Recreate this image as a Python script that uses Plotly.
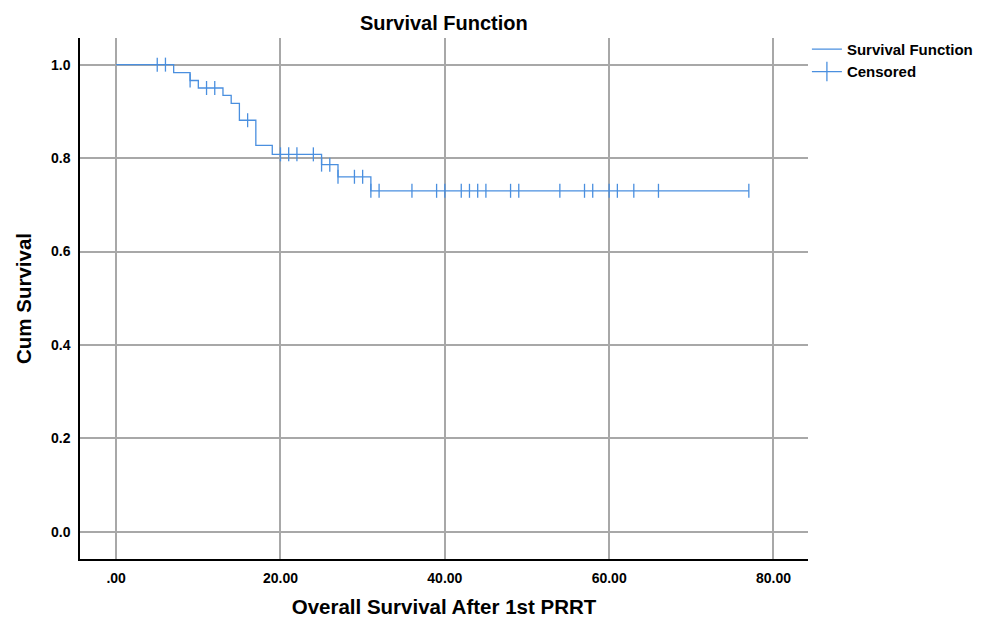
import numpy as np
import plotly.graph_objects as go

# Kaplan-Meier step function (event times and survival after each step)
step_times = [0, 7, 9, 10, 13, 14, 15, 17, 19, 25, 27, 31]
step_surv = [1.0, 0.983, 0.966, 0.950, 0.934, 0.917, 0.881, 0.827, 0.808, 0.786, 0.760, 0.730]
last_time = 77

# Censored observation times
censored_times = [5, 6, 9, 11, 12, 16, 20, 21, 22, 24, 25, 26, 27, 29, 30, 31, 32,
                  36, 39, 40, 42, 43, 44, 45, 48, 49, 54, 57, 58, 60, 61, 63, 66, 77]

x_tick_vals = [0, 20, 40, 60, 80]
x_tick_text = [".00", "20.00", "40.00", "60.00", "80.00"]
y_tick_vals = [0.0, 0.2, 0.4, 0.6, 0.8, 1.0]
y_tick_text = ["0.0", "0.2", "0.4", "0.6", "0.8", "1.0"]

BLUE = "#4a8fdf"
GRID = "#a8a8a8"
FONT = "Liberation Sans"

line_x = step_times + [last_time]
line_y = step_surv + [step_surv[-1]]

idx = np.searchsorted(np.array(step_times), np.array(censored_times), side="right") - 1
cens_y = [step_surv[i] for i in idx]

fig = go.Figure()
fig.add_trace(go.Scatter(
    x=line_x, y=line_y, mode="lines", line_shape="hv",
    line=dict(color=BLUE, width=1.3), name="Survival Function",
))
fig.add_trace(go.Scatter(
    x=censored_times, y=cens_y, mode="markers", showlegend=False,
    marker=dict(symbol="line-ns", size=10, line=dict(color=BLUE, width=1.3)),
    name="Censored",
))
fig.add_trace(go.Scatter(
    x=[None], y=[None], mode="lines+markers", name="Censored",
    line=dict(color=BLUE, width=1.3),
    marker=dict(symbol="line-ns", size=14, line=dict(color=BLUE, width=1.3)),
))

fig.update_layout(
    width=1002, height=619,
    margin=dict(l=80, r=194, t=38, b=60, autoexpand=False),
    paper_bgcolor="white", plot_bgcolor="white",
    title=dict(text="<b>Survival Function</b>", x=0.443, xanchor="center",
               y=0.963, yanchor="middle",
               font=dict(family=FONT, size=20, color="black")),
    font=dict(family=FONT, color="black"),
    legend=dict(x=0.9985, xanchor="left", y=1.01, yanchor="top",
                font=dict(family=FONT, size=15, color="black", weight="bold"),
                bgcolor="rgba(0,0,0,0)", borderwidth=0, tracegroupgap=0),
)
fig.update_xaxes(
    range=[-4.4, 84.2], tickvals=x_tick_vals, ticktext=x_tick_text,
    showgrid=True, gridcolor=GRID, gridwidth=2, zeroline=False,
    showline=True, linecolor="black", linewidth=1.5, automargin=False,
    ticks="outside", ticklen=5, tickcolor="rgba(0,0,0,0)",
    tickfont=dict(family=FONT, size=14, weight="bold"),
    title=dict(text="<b>Overall Survival After 1st PRRT</b>", standoff=15,
               font=dict(family=FONT, size=20.5)),
)
fig.update_yaxes(
    range=[-0.058, 1.057], tickvals=y_tick_vals, ticktext=y_tick_text,
    showgrid=True, gridcolor=GRID, gridwidth=2, zeroline=False,
    showline=True, linecolor="black", linewidth=1.5, automargin=False,
    ticks="outside", ticklen=5, tickcolor="rgba(0,0,0,0)",
    tickfont=dict(family=FONT, size=14, weight="bold"),
    title=dict(text="<b>Cum Survival</b>", standoff=14,
               font=dict(family=FONT, size=20.5)),
)

fig.write_html("out.html")
